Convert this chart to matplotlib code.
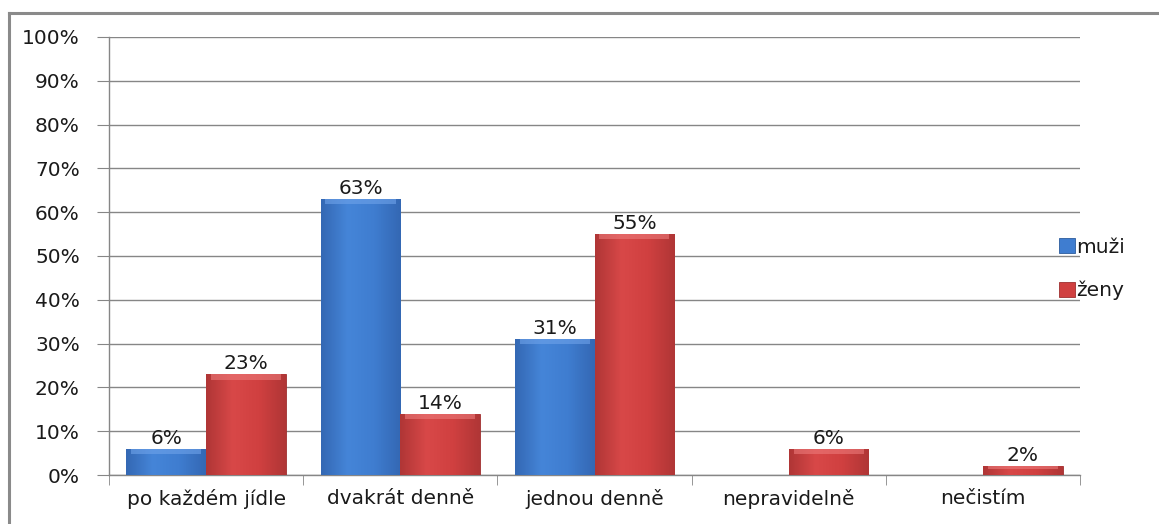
import numpy as np
import matplotlib.pyplot as plt
from matplotlib.colors import LinearSegmentedColormap
from matplotlib.patches import Rectangle

kategorie = ["po každém jídle", "dvakrát denně", "jednou denně", "nepravidelně", "nečistím"]
muzi = [6, 63, 31, 0, 0]
zeny = [23, 14, 55, 6, 2]
popisky_muzi = ["6%", "63%", "31%", "", ""]
popisky_zeny = ["23%", "14%", "55%", "6%", "2%"]

plt.rcParams['font.family'] = ['DejaVu Sans']
fs = 14.5
txt = '#1a1a1a'

fig = plt.figure(figsize=(11.59, 5.24), dpi=100)
ax = fig.add_axes([0.094, 0.0935, 0.838, 0.836])

# frame around the chart
fig.add_artist(plt.Line2D([0.0075, 0.0075], [0, 0.975], transform=fig.transFigure, color='#8a8a8a', lw=2.2))
fig.add_artist(plt.Line2D([0.0075, 1.0], [0.975, 0.975], transform=fig.transFigure, color='#8a8a8a', lw=2.2))

x = np.arange(len(kategorie))
w = 0.41

blue_cmap = LinearSegmentedColormap.from_list("b", ["#3468b4", "#4585d8", "#3f7dd0", "#3468b4"])
red_cmap = LinearSegmentedColormap.from_list("r", ["#b03636", "#d84848", "#d04040", "#b03636"])

b1 = ax.bar(x - w / 2, muzi, w, color='#3f7dd0', edgecolor='#2c5b9c', lw=0.6, label='muži', zorder=3)
b2 = ax.bar(x + w / 2, zeny, w, color='#d04040', edgecolor='#9e2f2f', lw=0.6, label='ženy', zorder=3)

grad = np.linspace(0, 1, 64).reshape(1, -1)
for bars, cmap, top in [(b1, blue_cmap, '#6fa3ea'), (b2, red_cmap, '#ec7a7a')]:
    for p in bars:
        h = p.get_height()
        if h <= 0:
            continue
        x0, w0 = p.get_x(), p.get_width()
        im = ax.imshow(grad, cmap=cmap, extent=[x0, x0 + w0, 0, h], aspect='auto', zorder=3.5)
        im.set_clip_path(p)
        band = min(1.2, h * 0.35)
        ax.add_patch(Rectangle((x0 + w0 * 0.06, h - band), w0 * 0.88, band, color=top, alpha=0.6, lw=0, zorder=3.6))

for p, t in zip(b1, popisky_muzi):
    if t:
        ax.text(p.get_x() + p.get_width() / 2, p.get_height() + 0.2, t, ha='center', va='bottom', fontsize=fs, color=txt)
for p, t in zip(b2, popisky_zeny):
    ax.text(p.get_x() + p.get_width() / 2, p.get_height() + 0.2, t, ha='center', va='bottom', fontsize=fs, color=txt)

ax.set_xlim(-0.5, len(kategorie) - 0.5)
ax.set_ylim(0, 100)
ax.set_yticks(np.arange(0, 101, 10))
ax.set_yticklabels([f"{v}%" for v in range(0, 101, 10)], fontsize=fs, color=txt)
ax.set_xticks(x)
ax.set_xticklabels(kategorie, fontsize=fs, color=txt)
ax.set_xticks(np.arange(-0.5, len(kategorie)), minor=True)
ax.tick_params(axis='x', which='major', length=0, pad=10)
ax.tick_params(axis='x', which='minor', length=7, color='#868686', direction='out')
ax.tick_params(axis='y', length=9, color='#868686', pad=12)

ax.yaxis.grid(True, color='#868686', lw=1)
ax.set_axisbelow(True)
for s in ['top', 'right']:
    ax.spines[s].set_visible(False)
for s in ['left', 'bottom']:
    ax.spines[s].set_color('#868686')
    ax.spines[s].set_linewidth(1)

leg = ax.legend(loc='center left', bbox_to_anchor=(0.96, 0.47), frameon=False, fontsize=fs,
                handlelength=0.75, handleheight=0.75, handletextpad=0.1, labelspacing=1.2)
for t in leg.get_texts():
    t.set_color(txt)

fig.savefig("out.png", dpi=100)
